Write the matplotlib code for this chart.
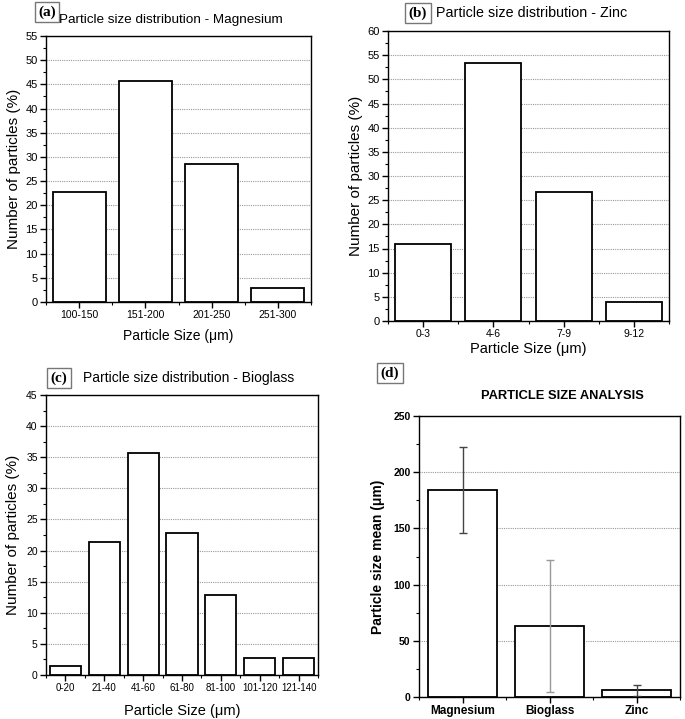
import matplotlib
matplotlib.use("Agg")
import matplotlib.pyplot as plt
import numpy as np
from matplotlib.ticker import MultipleLocator, FixedLocator

plt.rcParams['font.family'] = ['Liberation Sans', 'DejaVu Sans']

# Data
mg_cats = ["100-150", "151-200", "201-250", "251-300"]
mg_vals = [22.8, 45.7, 28.6, 2.8]
zn_cats = ["0-3", "4-6", "7-9", "9-12"]
zn_vals = [16.0, 53.3, 26.7, 4.0]
bg_cats = ["0-20", "21-40", "41-60", "61-80", "81-100", "101-120", "121-140"]
bg_vals = [1.4, 21.4, 35.7, 22.8, 12.8, 2.8, 2.8]
mean_cats = ["Magnesium", "Bioglass", "Zinc"]
mean_vals = [184, 63, 6]
mean_err = [38.5, 58.5, 5]
err_colors = ["#444444", "#999999", "#444444"]

W, H = 685, 719
fig = plt.figure(figsize=(W / 100, H / 100), dpi=100)


def add_ax(l, t, r, b):
    return fig.add_axes([l / W, 1 - b / H, (r - l) / W, (b - t) / H])


def style(ax, cats, ymax, ystep, yminor, bold=False, fs=7.5):
    x = np.arange(len(cats))
    ax.set_xlim(-0.5, len(cats) - 0.5)
    ax.set_ylim(0, ymax)
    ax.xaxis.set_major_locator(FixedLocator(x))
    ax.xaxis.set_minor_locator(FixedLocator(np.arange(len(cats) + 1) - 0.5))
    ax.set_xticklabels(cats, fontsize=fs, fontweight='bold' if bold else 'normal')
    ax.yaxis.set_major_locator(MultipleLocator(ystep))
    ax.yaxis.set_minor_locator(MultipleLocator(yminor))
    for lab in ax.get_yticklabels():
        lab.set_fontsize(7.5 if bold else fs + 0.5)
        lab.set_fontweight('bold' if bold else 'normal')
    ax.tick_params(which='major', direction='out', length=4, width=1, top=False, right=False, pad=2)
    ax.tick_params(which='minor', direction='out', length=2.5, width=0.8, top=False, right=False)
    for s in ax.spines.values():
        s.set_linewidth(1.0)
    ax.grid(axis='y', which='major', linestyle=(0, (1, 1)), color='#999999', linewidth=0.8)
    ax.set_axisbelow(True)


def boxed(x, y, s):
    fig.text(x / W, 1 - y / H, s, family=['Liberation Serif', 'DejaVu Serif'], fontweight='bold',
             fontsize=11, ha='center', va='center',
             bbox=dict(boxstyle='square,pad=0.22', facecolor='white', edgecolor='#777777', linewidth=1.0))


# (a) Magnesium
ax = add_ax(46, 36, 311, 302)
ax.bar(np.arange(len(mg_cats)), mg_vals, width=0.8, facecolor='white', edgecolor='black', linewidth=1.3)
style(ax, mg_cats, 55, 5, 2.5)
ax.set_ylabel("Number of particles (%)", fontsize=11, labelpad=3)
ax.set_xlabel("Particle Size (\u03bcm)", fontsize=10, labelpad=6)
boxed(47, 12, "(a)")
fig.text(59 / W, 1 - 20 / H, "Particle size distribution - Magnesium", fontsize=9.7, va='center', ha='left')

# (b) Zinc
ax = add_ax(388, 31, 669, 321)
ax.bar(np.arange(len(zn_cats)), zn_vals, width=0.8, facecolor='white', edgecolor='black', linewidth=1.3)
style(ax, zn_cats, 60, 5, 2.5)
ax.set_ylabel("Number of particles (%)", fontsize=11, labelpad=3)
ax.set_xlabel("Particle Size (\u03bcm)", fontsize=10.5, labelpad=2)
boxed(418, 13, "(b)")
fig.text(436 / W, 1 - 13 / H, "Particle size distribution - Zinc", fontsize=10.3, va='center', ha='left')

# (c) Bioglass
ax = add_ax(46, 395, 318, 675)
ax.bar(np.arange(len(bg_cats)), bg_vals, width=0.8, facecolor='white', edgecolor='black', linewidth=1.3)
style(ax, bg_cats, 45, 5, 2.5, fs=7)
ax.set_ylabel("Number of particles (%)", fontsize=11, labelpad=4)
ax.set_xlabel("Particle Size (\u03bcm)", fontsize=10.5, labelpad=8)
boxed(59, 378, "(c)")
fig.text(83 / W, 1 - 378 / H, "Particle size distribution - Bioglass", fontsize=10, va='center', ha='left')

# (d) Mean particle size
ax = add_ax(419, 416, 680, 697)
xm = np.arange(len(mean_cats))
ax.bar(xm, mean_vals, width=0.8, facecolor='white', edgecolor='black', linewidth=1.3)
for i in range(len(mean_cats)):
    ax.errorbar(xm[i], mean_vals[i], yerr=mean_err[i], ecolor=err_colors[i], elinewidth=1.0,
                capsize=3, capthick=1.0, fmt='none')
style(ax, mean_cats, 250, 50, 25, bold=True, fs=8.5)
ax.set_ylabel("Particle size mean (\u03bcm)", fontsize=10, fontweight='bold', labelpad=6)
boxed(390, 373, "(d)")
fig.text(562 / W, 1 - 396 / H, "PARTICLE SIZE ANALYSIS", fontsize=9.3, fontweight='bold', va='center', ha='center')

fig.savefig("out.png", dpi=100, facecolor='white')
